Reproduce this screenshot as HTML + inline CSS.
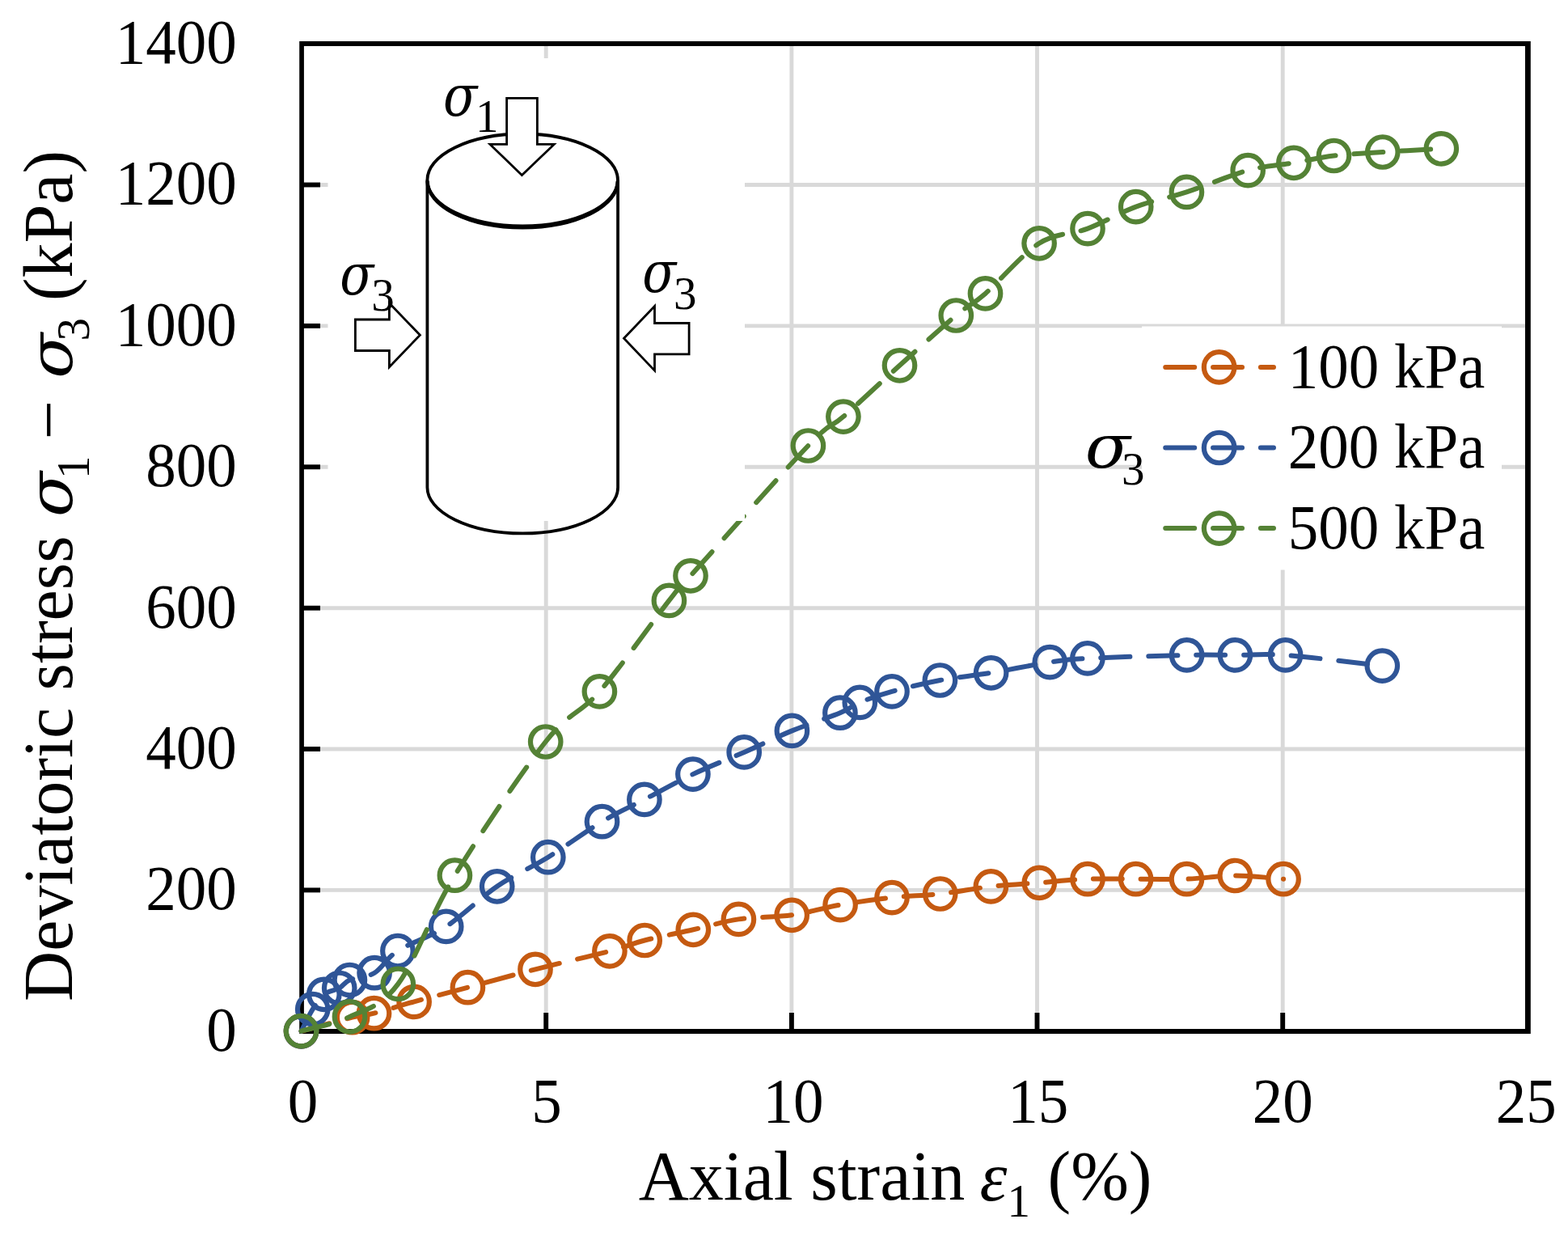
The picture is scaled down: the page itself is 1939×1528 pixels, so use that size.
<!DOCTYPE html>
<html><head><meta charset="utf-8"><title>Deviatoric stress vs axial strain</title>
<style>html,body{margin:0;padding:0;background:#fff;} svg{display:block;}</style></head>
<body>
<svg width="1939" height="1528" viewBox="0 0 1939 1528" font-family="'Liberation Serif', 'Times New Roman', serif" fill="#000">
<rect width="1939" height="1528" fill="#fff"/>
<g stroke="#D9D9D9" stroke-width="4.9"><line x1="675.2" y1="57" x2="675.2" y2="1252" /><line x1="978.9" y1="57" x2="978.9" y2="1252" /><line x1="1282.5" y1="57" x2="1282.5" y2="1252" /><line x1="1586.2" y1="57" x2="1586.2" y2="1252" /><line x1="376" y1="1100.4" x2="1886" y2="1100.4" /><line x1="376" y1="926.0" x2="1886" y2="926.0" /><line x1="376" y1="751.7" x2="1886" y2="751.7" /><line x1="376" y1="577.3" x2="1886" y2="577.3" /><line x1="376" y1="402.9" x2="1886" y2="402.9" /><line x1="376" y1="228.5" x2="1886" y2="228.5" /></g>
<g stroke="#000" stroke-width="5.9"><line x1="675.2" y1="1252" x2="675.2" y2="1273" /><line x1="978.9" y1="1252" x2="978.9" y2="1273" /><line x1="1282.5" y1="1252" x2="1282.5" y2="1273" /><line x1="1586.2" y1="1252" x2="1586.2" y2="1273" /><line x1="374" y1="1100.4" x2="396" y2="1100.4" /><line x1="374" y1="926.0" x2="396" y2="926.0" /><line x1="374" y1="751.7" x2="396" y2="751.7" /><line x1="374" y1="577.3" x2="396" y2="577.3" /><line x1="374" y1="402.9" x2="396" y2="402.9" /><line x1="374" y1="228.5" x2="396" y2="228.5" /></g>
<path fill="#000" d="M370.2,51.1 H1892.8 V1277.9 H370.2 Z M375.9,57.1 V1271.9 H1886 V57.1 Z" fill-rule="evenodd"/>
<path d="M372.50,1274.80 C383.02,1271.95 420.60,1261.38 435.60,1257.70 C450.60,1254.02 449.75,1255.92 462.50,1252.70 C475.25,1249.48 492.78,1243.73 512.10,1238.40 C531.42,1233.07 553.42,1227.38 578.40,1220.70 C603.38,1214.02 632.75,1205.78 662.00,1198.30 C691.25,1190.82 731.37,1181.77 753.90,1175.80 C776.43,1169.83 779.97,1166.92 797.20,1162.50 C814.43,1158.08 837.93,1153.65 857.30,1149.30 C876.67,1144.95 893.08,1139.40 913.40,1136.40 C933.72,1133.40 958.25,1134.27 979.20,1131.30 C1000.15,1128.33 1018.47,1122.22 1039.10,1118.60 C1059.73,1114.98 1082.40,1111.87 1103.00,1109.60 C1123.60,1107.33 1142.30,1107.28 1162.70,1105.00 C1183.10,1102.72 1204.97,1098.18 1225.40,1095.90 C1245.83,1093.62 1265.37,1092.83 1285.30,1091.30 C1305.23,1089.77 1325.12,1087.47 1345.00,1086.70 C1364.88,1085.93 1384.18,1086.70 1404.60,1086.70 C1425.02,1086.70 1447.05,1087.40 1467.50,1086.70 C1487.95,1086.00 1507.37,1082.50 1527.30,1082.50 C1547.23,1082.50 1577.13,1086.00 1587.10,1086.70" fill="none" stroke="#C55A11" stroke-width="6.0" stroke-dasharray="36 22.85" stroke-linecap="round" stroke-linejoin="round"/>
<circle cx="372.5" cy="1274.8" r="18.75" fill="none" stroke="#C55A11" stroke-width="6.2"/>
<circle cx="435.6" cy="1257.7" r="18.75" fill="none" stroke="#C55A11" stroke-width="6.2"/>
<circle cx="462.5" cy="1252.7" r="18.75" fill="none" stroke="#C55A11" stroke-width="6.2"/>
<circle cx="512.1" cy="1238.4" r="18.75" fill="none" stroke="#C55A11" stroke-width="6.2"/>
<circle cx="578.4" cy="1220.7" r="18.75" fill="none" stroke="#C55A11" stroke-width="6.2"/>
<circle cx="662.0" cy="1198.3" r="18.75" fill="none" stroke="#C55A11" stroke-width="6.2"/>
<circle cx="753.9" cy="1175.8" r="18.75" fill="none" stroke="#C55A11" stroke-width="6.2"/>
<circle cx="797.2" cy="1162.5" r="18.75" fill="none" stroke="#C55A11" stroke-width="6.2"/>
<circle cx="857.3" cy="1149.3" r="18.75" fill="none" stroke="#C55A11" stroke-width="6.2"/>
<circle cx="913.4" cy="1136.4" r="18.75" fill="none" stroke="#C55A11" stroke-width="6.2"/>
<circle cx="979.2" cy="1131.3" r="18.75" fill="none" stroke="#C55A11" stroke-width="6.2"/>
<circle cx="1039.1" cy="1118.6" r="18.75" fill="none" stroke="#C55A11" stroke-width="6.2"/>
<circle cx="1103.0" cy="1109.6" r="18.75" fill="none" stroke="#C55A11" stroke-width="6.2"/>
<circle cx="1162.7" cy="1105.0" r="18.75" fill="none" stroke="#C55A11" stroke-width="6.2"/>
<circle cx="1225.4" cy="1095.9" r="18.75" fill="none" stroke="#C55A11" stroke-width="6.2"/>
<circle cx="1285.3" cy="1091.3" r="18.75" fill="none" stroke="#C55A11" stroke-width="6.2"/>
<circle cx="1345.0" cy="1086.7" r="18.75" fill="none" stroke="#C55A11" stroke-width="6.2"/>
<circle cx="1404.6" cy="1086.7" r="18.75" fill="none" stroke="#C55A11" stroke-width="6.2"/>
<circle cx="1467.5" cy="1086.7" r="18.75" fill="none" stroke="#C55A11" stroke-width="6.2"/>
<circle cx="1527.3" cy="1082.5" r="18.75" fill="none" stroke="#C55A11" stroke-width="6.2"/>
<circle cx="1587.1" cy="1086.7" r="18.75" fill="none" stroke="#C55A11" stroke-width="6.2"/>

<path d="M372.50,1274.80 C374.87,1270.27 381.98,1255.18 386.70,1247.60 C391.42,1240.02 395.30,1233.65 400.80,1229.30 C406.30,1224.95 414.43,1224.47 419.70,1221.50 C424.97,1218.53 425.17,1214.63 432.40,1211.50 C439.63,1208.37 453.18,1208.70 463.10,1202.70 C473.02,1196.70 477.13,1185.05 491.90,1175.50 C506.67,1165.95 531.23,1158.68 551.70,1145.40 C572.17,1132.12 593.68,1110.08 614.70,1095.80 C635.72,1081.52 656.17,1073.05 677.80,1059.70 C699.43,1046.35 724.65,1027.58 744.50,1015.70 C764.35,1003.82 778.17,998.17 796.90,988.40 C815.63,978.63 836.35,966.85 856.90,957.10 C877.45,947.35 899.78,938.85 920.20,929.90 C940.62,920.95 959.62,911.52 979.40,903.40 C999.18,895.28 1024.92,887.03 1038.90,881.20 C1052.88,875.37 1052.62,872.78 1063.30,868.40 C1073.98,864.02 1086.48,859.47 1103.00,854.90 C1119.52,850.33 1141.97,844.85 1162.40,841.00 C1182.83,837.15 1202.95,835.53 1225.60,831.80 C1248.25,828.07 1278.42,821.58 1298.30,818.60 C1318.18,815.62 1316.68,815.35 1344.90,813.90 C1373.12,812.45 1437.18,810.57 1467.60,809.90 C1498.02,809.23 1507.07,809.90 1527.40,809.90 C1547.73,809.90 1559.28,807.70 1589.60,809.90 C1619.92,812.10 1689.35,820.90 1709.30,823.10" fill="none" stroke="#2F5597" stroke-width="6.0" stroke-dasharray="36 22.85" stroke-linecap="round" stroke-linejoin="round"/>
<circle cx="372.5" cy="1274.8" r="18.75" fill="none" stroke="#2F5597" stroke-width="6.2"/>
<circle cx="386.7" cy="1247.6" r="18.75" fill="none" stroke="#2F5597" stroke-width="6.2"/>
<circle cx="400.8" cy="1229.3" r="18.75" fill="none" stroke="#2F5597" stroke-width="6.2"/>
<circle cx="419.7" cy="1221.5" r="18.75" fill="none" stroke="#2F5597" stroke-width="6.2"/>
<circle cx="432.4" cy="1211.5" r="18.75" fill="none" stroke="#2F5597" stroke-width="6.2"/>
<circle cx="463.1" cy="1202.7" r="18.75" fill="none" stroke="#2F5597" stroke-width="6.2"/>
<circle cx="491.9" cy="1175.5" r="18.75" fill="none" stroke="#2F5597" stroke-width="6.2"/>
<circle cx="551.7" cy="1145.4" r="18.75" fill="none" stroke="#2F5597" stroke-width="6.2"/>
<circle cx="614.7" cy="1095.8" r="18.75" fill="none" stroke="#2F5597" stroke-width="6.2"/>
<circle cx="677.8" cy="1059.7" r="18.75" fill="none" stroke="#2F5597" stroke-width="6.2"/>
<circle cx="744.5" cy="1015.7" r="18.75" fill="none" stroke="#2F5597" stroke-width="6.2"/>
<circle cx="796.9" cy="988.4" r="18.75" fill="none" stroke="#2F5597" stroke-width="6.2"/>
<circle cx="856.9" cy="957.1" r="18.75" fill="none" stroke="#2F5597" stroke-width="6.2"/>
<circle cx="920.2" cy="929.9" r="18.75" fill="none" stroke="#2F5597" stroke-width="6.2"/>
<circle cx="979.4" cy="903.4" r="18.75" fill="none" stroke="#2F5597" stroke-width="6.2"/>
<circle cx="1038.9" cy="881.2" r="18.75" fill="none" stroke="#2F5597" stroke-width="6.2"/>
<circle cx="1063.3" cy="868.4" r="18.75" fill="none" stroke="#2F5597" stroke-width="6.2"/>
<circle cx="1103.0" cy="854.9" r="18.75" fill="none" stroke="#2F5597" stroke-width="6.2"/>
<circle cx="1162.4" cy="841.0" r="18.75" fill="none" stroke="#2F5597" stroke-width="6.2"/>
<circle cx="1225.6" cy="831.8" r="18.75" fill="none" stroke="#2F5597" stroke-width="6.2"/>
<circle cx="1298.3" cy="818.6" r="18.75" fill="none" stroke="#2F5597" stroke-width="6.2"/>
<circle cx="1344.9" cy="813.9" r="18.75" fill="none" stroke="#2F5597" stroke-width="6.2"/>
<circle cx="1467.6" cy="809.9" r="18.75" fill="none" stroke="#2F5597" stroke-width="6.2"/>
<circle cx="1527.4" cy="809.9" r="18.75" fill="none" stroke="#2F5597" stroke-width="6.2"/>
<circle cx="1589.6" cy="809.9" r="18.75" fill="none" stroke="#2F5597" stroke-width="6.2"/>
<circle cx="1709.3" cy="823.1" r="18.75" fill="none" stroke="#2F5597" stroke-width="6.2"/>

<path d="M372.50,1274.60 C382.50,1271.65 412.53,1266.60 432.50,1256.90 C452.47,1247.20 470.65,1245.52 492.30,1216.40 C513.95,1187.28 532.00,1132.10 562.40,1082.20 C592.80,1032.30 644.87,954.88 674.70,917.00 C704.53,879.12 715.95,884.00 741.40,854.90 C766.85,825.80 808.63,766.25 827.40,742.40 C846.17,718.55 825.33,743.70 854.00,711.80 C882.67,679.90 967.92,583.78 999.40,551.00 C1030.88,518.22 1024.05,531.63 1042.90,515.10 C1061.75,498.57 1089.27,472.65 1112.50,451.80 C1135.73,430.95 1164.63,404.82 1182.30,390.00 C1199.97,375.18 1201.37,377.77 1218.50,362.90 C1235.63,348.03 1264.02,314.18 1285.10,300.80 C1306.18,287.42 1325.07,290.13 1345.00,282.60 C1364.93,275.07 1384.30,263.13 1404.70,255.60 C1425.10,248.07 1444.32,244.90 1467.40,237.40 C1490.48,229.90 1521.12,216.62 1543.20,210.60 C1565.28,204.58 1582.18,204.32 1599.90,201.30 C1617.62,198.28 1631.18,194.72 1649.50,192.50 C1667.82,190.28 1687.67,189.45 1709.80,188.00 C1731.93,186.55 1770.22,184.50 1782.30,183.80" fill="none" stroke="#548235" stroke-width="6.0" stroke-dasharray="36 22.85" stroke-linecap="round" stroke-linejoin="round"/>
<circle cx="372.5" cy="1274.6" r="18.75" fill="none" stroke="#548235" stroke-width="6.2"/>
<circle cx="432.5" cy="1256.9" r="18.75" fill="none" stroke="#548235" stroke-width="6.2"/>
<circle cx="492.3" cy="1216.4" r="18.75" fill="none" stroke="#548235" stroke-width="6.2"/>
<circle cx="562.4" cy="1082.2" r="18.75" fill="none" stroke="#548235" stroke-width="6.2"/>
<circle cx="674.7" cy="917.0" r="18.75" fill="none" stroke="#548235" stroke-width="6.2"/>
<circle cx="741.4" cy="854.9" r="18.75" fill="none" stroke="#548235" stroke-width="6.2"/>
<circle cx="827.4" cy="742.4" r="18.75" fill="none" stroke="#548235" stroke-width="6.2"/>
<circle cx="854.0" cy="711.8" r="18.75" fill="none" stroke="#548235" stroke-width="6.2"/>
<circle cx="999.4" cy="551.0" r="18.75" fill="none" stroke="#548235" stroke-width="6.2"/>
<circle cx="1042.9" cy="515.1" r="18.75" fill="none" stroke="#548235" stroke-width="6.2"/>
<circle cx="1112.5" cy="451.8" r="18.75" fill="none" stroke="#548235" stroke-width="6.2"/>
<circle cx="1182.3" cy="390.0" r="18.75" fill="none" stroke="#548235" stroke-width="6.2"/>
<circle cx="1218.5" cy="362.9" r="18.75" fill="none" stroke="#548235" stroke-width="6.2"/>
<circle cx="1285.1" cy="300.8" r="18.75" fill="none" stroke="#548235" stroke-width="6.2"/>
<circle cx="1345.0" cy="282.6" r="18.75" fill="none" stroke="#548235" stroke-width="6.2"/>
<circle cx="1404.7" cy="255.6" r="18.75" fill="none" stroke="#548235" stroke-width="6.2"/>
<circle cx="1467.4" cy="237.4" r="18.75" fill="none" stroke="#548235" stroke-width="6.2"/>
<circle cx="1543.2" cy="210.6" r="18.75" fill="none" stroke="#548235" stroke-width="6.2"/>
<circle cx="1599.9" cy="201.3" r="18.75" fill="none" stroke="#548235" stroke-width="6.2"/>
<circle cx="1649.5" cy="192.5" r="18.75" fill="none" stroke="#548235" stroke-width="6.2"/>
<circle cx="1709.8" cy="188.0" r="18.75" fill="none" stroke="#548235" stroke-width="6.2"/>
<circle cx="1782.3" cy="183.8" r="18.75" fill="none" stroke="#548235" stroke-width="6.2"/>

<rect x="405.5" y="72" width="515.5" height="572" fill="#fff"/>
<g fill="none" stroke="#000" stroke-width="3.8">
<path d="M528.4,222.5 L528.4,602.4 A117.8,57 0 0 0 764.1,602.4 L764.1,222.5"/>
<ellipse cx="646.2" cy="222.5" rx="117.8" ry="57"/>
<path d="M528.6,224 A117.6,57.2 0 0 0 763.8,224" stroke-width="4.4"/>
</g>
<g fill="#fff" stroke="#000" stroke-width="2.8" stroke-linejoin="miter">
<polygon points="626.6,121.4 664.4,121.4 664.4,178.4 685.2,178.4 645.4,216.5 606,178.4 626.6,178.4"/>
<polygon points="439.4,395 481.4,395 481.4,374.8 519.4,414.2 481.4,453.7 481.4,433.5 439.4,433.5"/>
<polygon points="852.1,399.5 809.5,399.5 809.5,378.6 771.5,418.3 809.5,458.1 809.5,437.9 852.1,437.9"/>
</g>

<rect x="1412" y="403.5" width="445" height="301" fill="#fff"/>
<path d="M1441.2,453.9 L1575,453.9" stroke="#C55A11" stroke-width="6.0" stroke-dasharray="36 22.85" stroke-linecap="round" fill="none"/><circle cx="1507.6" cy="453.9" r="18.75" fill="none" stroke="#C55A11" stroke-width="6.2"/><text transform="translate(1592.7,478.5) scale(1,1.04)" font-size="75">100 kPa</text><path d="M1441.2,553.5 L1575,553.5" stroke="#2F5597" stroke-width="6.0" stroke-dasharray="36 22.85" stroke-linecap="round" fill="none"/><circle cx="1507.6" cy="553.5" r="18.75" fill="none" stroke="#2F5597" stroke-width="6.2"/><text transform="translate(1592.7,578.1) scale(1,1.04)" font-size="75">200 kPa</text><path d="M1441.2,653.1 L1575,653.1" stroke="#548235" stroke-width="6.0" stroke-dasharray="36 22.85" stroke-linecap="round" fill="none"/><circle cx="1507.6" cy="653.1" r="18.75" fill="none" stroke="#548235" stroke-width="6.2"/><text transform="translate(1592.7,677.7) scale(1,1.04)" font-size="75">500 kPa</text>
<text transform="translate(292.7,1298.6) scale(1,1.04)" font-size="75" text-anchor="end">0</text>
<text transform="translate(292.7,1124.2) scale(1,1.04)" font-size="75" text-anchor="end">200</text>
<text transform="translate(292.7,949.8) scale(1,1.04)" font-size="75" text-anchor="end">400</text>
<text transform="translate(292.7,775.5) scale(1,1.04)" font-size="75" text-anchor="end">600</text>
<text transform="translate(292.7,601.1) scale(1,1.04)" font-size="75" text-anchor="end">800</text>
<text transform="translate(292.7,426.7) scale(1,1.04)" font-size="75" text-anchor="end">1000</text>
<text transform="translate(292.7,252.3) scale(1,1.04)" font-size="75" text-anchor="end">1200</text>
<text transform="translate(292.7,77.9) scale(1,1.04)" font-size="75" text-anchor="end">1400</text>
<text transform="translate(374.6,1387.4) scale(1,1.04)" font-size="75" text-anchor="middle">0</text>
<text transform="translate(676.1,1387.4) scale(1,1.04)" font-size="75" text-anchor="middle">5</text>
<text transform="translate(981.0,1387.4) scale(1,1.04)" font-size="75" text-anchor="middle">10</text>
<text transform="translate(1283.8,1387.4) scale(1,1.04)" font-size="75" text-anchor="middle">15</text>
<text transform="translate(1586.3,1387.4) scale(1,1.04)" font-size="75" text-anchor="middle">20</text>
<text transform="translate(1887.2,1387.4) scale(1,1.04)" font-size="75" text-anchor="middle">25</text>
<g font-size="86">
<text x="789.7" y="1482.6">Axial strain</text>
<text x="1211.5" y="1484" font-style="italic">ε</text>
<text x="1245.5" y="1503.8" font-size="57">1</text>
<text x="1295.5" y="1482.6">(%)</text>
</g>
<g transform="translate(88.5,1236) rotate(-90)" font-size="86">
<text x="-1.9" y="0">Deviatoric stress</text>
<text transform="translate(597.1,0.6) scale(0.964,0.893)" font-family="'DejaVu Serif', serif" font-style="italic" font-size="85">σ</text>
<text x="644.0" y="21.5" font-size="57">1</text>
<text x="692.7" y="0">−</text>
<text transform="translate(768.3,0.4) scale(0.964,0.884)" font-family="'DejaVu Serif', serif" font-style="italic" font-size="85">σ</text>
<text x="814.4" y="21.7" font-size="57">3</text>
<text x="863.9" y="0">(kPa)</text>
</g>
<text transform="translate(547.9,142.7) scale(0.729,0.834)" font-family="'DejaVu Serif', serif" font-style="italic" font-size="85">σ</text>
<text x="588.0" y="162.9" font-size="57">1</text>
<text transform="translate(420.2,363.9) scale(0.724,0.845)" font-family="'DejaVu Serif', serif" font-style="italic" font-size="85">σ</text>
<text x="459.2" y="384.3" font-size="57">3</text>
<text transform="translate(794.2,361.3) scale(0.724,0.845)" font-family="'DejaVu Serif', serif" font-style="italic" font-size="85">σ</text>
<text x="833.1" y="382.2" font-size="57">3</text>
<text transform="translate(1341.8,578.0) scale(0.969,0.889)" font-family="'DejaVu Serif', serif" font-style="italic" font-size="85">σ</text>
<text x="1387.1" y="599.0" font-size="57">3</text>
</svg>
</body></html>
